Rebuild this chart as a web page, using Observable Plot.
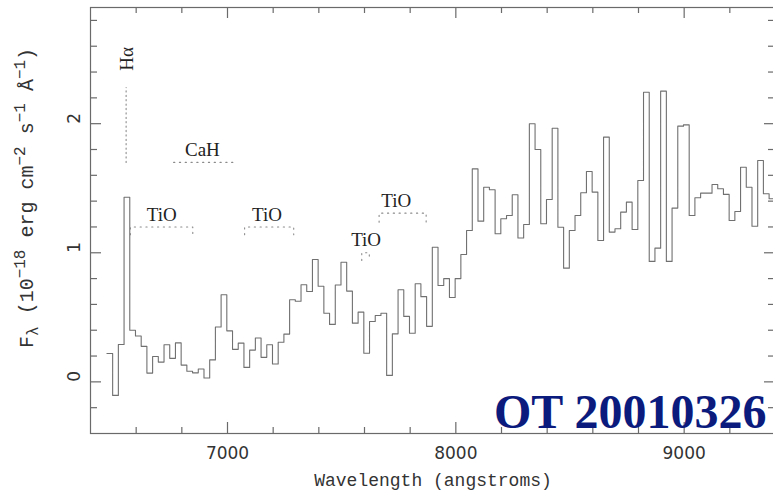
<!DOCTYPE html>
<html><head><meta charset="utf-8">
<script src="https://cdn.jsdelivr.net/npm/d3@7"></script>
<script src="https://cdn.jsdelivr.net/npm/@observablehq/plot@0.6"></script>
<style>html,body{margin:0;padding:0;overflow:hidden;background:#fff;}</style>
</head><body><div id="chart"></div>
<script>
// Bin start wavelengths (angstroms) and the closing edge of the last bin
const binStart = [
 6472,6497,6522,6547,6572,6597,6622,6647,6672,6697,
 6722,6747,6772,6797,6822,6847,6872,6897,6922,6947,
 6972,6997,7022,7047,7072,7097,7122,7147,7172,7197,
 7222,7247,7272,7297,7322,7347,7372,7397,7422,7447,
 7472,7497,7522,7547,7572,7597,7622,7647,7672,7697,
 7722,7747,7772,7797,7822,7847,7872,7897,7922,7947,
 7972,7997,8022,8047,8072,8097,8122,8147,8172,8197,
 8222,8247,8272,8297,8322,8347,8372,8397,8422,8447,
 8472,8497,8522,8547,8572,8597,8622,8647,8672,8697,
 8722,8747,8772,8797,8822,8847,8872,8897,8922,8947,
 8972,8997,9022,9047,9072,9097,9122,9147,9172,9197,
 9222,9247,9272,9297,9322,9347,9372];
const lastEdge = 9397;
// Flux per bin (1e-18 erg cm^-2 s^-1 A^-1)
const flux = [
 0.22,-0.105,0.29,1.43,0.40,0.355,0.275,0.068,0.197,0.153,
 0.288,0.182,0.302,0.13,0.082,0.07,0.10,0.03,0.17,0.425,
 0.675,0.395,0.252,0.30,0.112,0.246,0.34,0.19,0.288,0.138,
 0.307,0.37,0.636,0.625,0.752,0.70,0.948,0.741,0.532,0.445,
 0.75,0.927,0.703,0.455,0.54,0.222,0.468,0.514,0.532,0.05,
 0.372,0.713,0.507,0.377,0.76,0.66,0.43,1.043,0.747,0.80,
 0.653,0.80,0.987,1.172,1.65,1.245,1.508,1.488,1.147,1.263,
 1.289,1.45,1.115,1.219,2.0,1.80,1.225,1.413,1.965,1.198,
 0.881,1.173,1.289,1.465,1.63,1.47,1.095,1.896,1.16,1.186,
 1.315,1.392,1.18,1.56,2.244,0.933,1.036,2.252,0.933,1.346,
 1.981,1.991,1.289,1.426,1.462,1.462,1.529,1.496,1.452,1.25,
 1.32,1.663,1.508,1.206,1.715,1.457,1.418];

const xMajor = [7000, 8000, 9000];
const xMinor = [6600, 6800, 7200, 7400, 7600, 7800, 8200, 8400, 8600, 8800, 9200];
const yMajor = [0, 1, 2];
const yMinor = [-0.2, 0.2, 0.4, 0.6, 0.8, 1.2, 1.4, 1.6, 1.8, 2.2, 2.4, 2.6, 2.8];

// Band annotations: name, start, end, level, end-drop, label x, label baseline
const bandNames = ["TiO", "TiO", "TiO", "TiO", "CaH"];
const bandX1 = [6575, 7075, 7588, 7664, 6764];
const bandX2 = [6848, 7290, 7621, 7870, 7034];
const bandY = [1.2, 1.2, 1.0, 1.307, 1.70];
const bandDrop = [0.06, 0.06, 0.06, 0.07, 0];
const bandLabelX = [6712, 7173, 7607, 7739, 6890];
const bandLabelY = [1.245, 1.25, 1.049, 1.353, 1.748];
// H-alpha marker
const haX = 6556, haY1 = 1.70, haY2 = 2.28, haLabelX = 6559, haLabelY = 2.41;

const points = binStart.map((x, i) => ({x, y: flux[i]}));
points.push({x: lastEdge, y: flux[flux.length - 1]});

const bracketPts = [];
bandNames.forEach((n, i) => {
  bracketPts.push({b: i, x: bandX1[i], y: bandY[i] - bandDrop[i]});
  bracketPts.push({b: i, x: bandX1[i], y: bandY[i]});
  bracketPts.push({b: i, x: bandX2[i], y: bandY[i]});
  bracketPts.push({b: i, x: bandX2[i], y: bandY[i] - bandDrop[i]});
});
const bandLabels = bandNames.map((n, i) => ({t: n, x: bandLabelX[i], y: bandLabelY[i]}));

const W = 776, H = 493, mL = 90, mR = 1, mT = 7, mB = 60;
const fw = W - mL - mR, fh = H - mT - mB;
const axisCol = "#6a6a6a";
const tickFont = "DejaVu Sans";
const serif = "Liberation Serif";

const svg = Plot.plot({
  width: W, height: H,
  marginLeft: mL, marginRight: mR, marginTop: mT, marginBottom: mB,
  style: {maxWidth: "none", background: "#fff", overflow: "hidden"},
  x: {domain: [6400, 9400], axis: null},
  y: {domain: [-0.4, 2.9], axis: null},
  marks: [
    Plot.line(points, {x: "x", y: "y", curve: "step-after", stroke: "#707070", strokeWidth: 1.1}),
    Plot.line(bracketPts, {x: "x", y: "y", z: "b", stroke: "#8a8a8a", strokeWidth: 1.1, strokeDasharray: "1.2 4.6"}),
    Plot.line([{x: haX, y: haY1}, {x: haX, y: haY2}], {x: "x", y: "y", stroke: "#8a8a8a", strokeWidth: 1.1, strokeDasharray: "1.2 3.2"}),
    Plot.text(bandLabels, {x: "x", y: "y", text: "t", fontFamily: serif, fontSize: 19, fill: "#222", lineAnchor: "bottom"}),
    Plot.text([{x: haLabelX, y: haLabelY, t: "Hα"}], {x: "x", y: "y", text: "t", rotate: -90, textAnchor: "start", lineAnchor: "middle", fontFamily: serif, fontSize: 19, fill: "#222"}),
    Plot.frame({stroke: axisCol, strokeWidth: 1.2}),
    // ticks: bottom & top
    Plot.tickX(xMajor, {x: d => d, insetTop: fh - 11, stroke: axisCol, strokeWidth: 1.2}),
    Plot.tickX(xMinor, {x: d => d, insetTop: fh - 6, stroke: axisCol, strokeWidth: 1.2}),
    Plot.tickX(xMajor, {x: d => d, insetBottom: fh - 11, stroke: axisCol, strokeWidth: 1.2}),
    Plot.tickX(xMinor, {x: d => d, insetBottom: fh - 6, stroke: axisCol, strokeWidth: 1.2}),
    // ticks: left & right
    Plot.tickY(yMajor, {y: d => d, insetRight: fw - 11, stroke: axisCol, strokeWidth: 1.2}),
    Plot.tickY(yMinor, {y: d => d, insetRight: fw - 7, stroke: axisCol, strokeWidth: 1.2}),
    Plot.tickY(yMajor, {y: d => d, insetLeft: fw - 11, stroke: axisCol, strokeWidth: 1.2}),
    Plot.tickY(yMinor, {y: d => d, insetLeft: fw - 7, stroke: axisCol, strokeWidth: 1.2}),
    // tick labels
    Plot.text(xMajor, {x: d => d, text: d => String(d), frameAnchor: "bottom", dy: 25, lineAnchor: "bottom", fontFamily: tickFont, fontSize: 17, fill: "#333"}),
    Plot.text(yMajor, {y: d => d, text: d => String(d), frameAnchor: "left", dx: -16, rotate: -90, lineAnchor: "middle", fontFamily: tickFont, fontSize: 17, fill: "#333"}),
    Plot.text(["Wavelength (angstroms)"], {frameAnchor: "bottom", dy: 52, lineAnchor: "bottom", fontFamily: "Liberation Mono", fontSize: 18, fill: "#333"}),
    Plot.text(["OT 20010326"], {frameAnchor: "bottom-right", dx: -9, dy: -6, textAnchor: "end", lineAnchor: "bottom", fontFamily: serif, fontWeight: "bold", fontSize: 48, fill: "#0b1a7d"})
  ]
});

// Y axis title with sub/superscripts
const yl = d3.select(svg).append("text")
  .attr("transform", "translate(33,348) rotate(-90)")
  .attr("text-anchor", "start")
  .attr("font-family", "Liberation Mono").attr("font-size", 20).attr("fill", "#333");
const parts = [
  ["F", 20, 0], ["λ", 16, 5], [" (10", 20, -5], ["−18", 16, -8], [" erg cm", 20, 8],
  ["−2", 16, -8], [" s", 20, 8], ["−1", 16, -8], [" Å", 20, 8], ["−1", 16, -8], [")", 20, 8]
];
parts.forEach(([t, fs, dy]) => yl.append("tspan").attr("font-size", fs).attr("dy", dy).text(t));

document.getElementById("chart").appendChild(svg);
</script></body></html>
